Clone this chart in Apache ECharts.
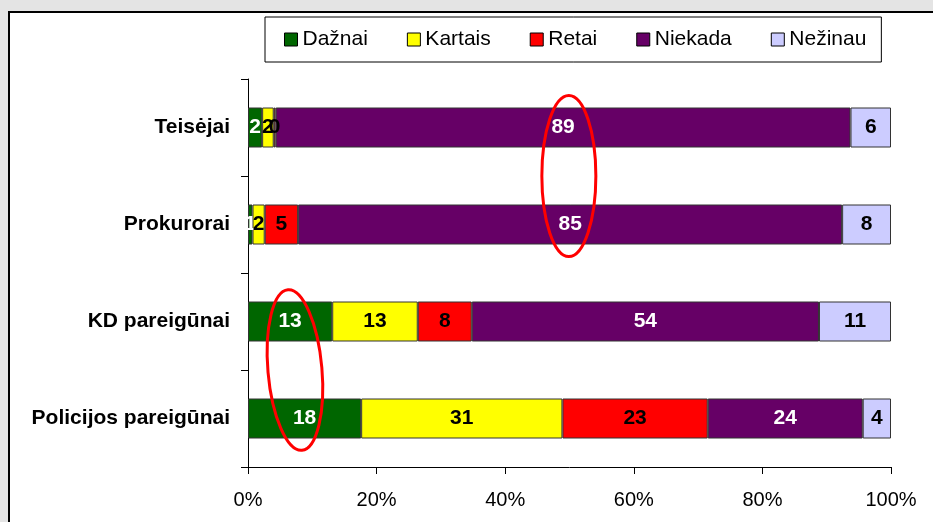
<!DOCTYPE html>
<html lang="lt" style="height: 100%">
<head>
  <meta charset="utf-8">
  <title>Dažnumas pagal grupes</title>
  <style>
    html, body { height: 100%; margin: 0; }
    #container { width: 933px; height: 522px; }
  </style>
</head>
<body>
  <div id="container"></div>
  <script src="https://cdn.jsdelivr.net/npm/echarts@6/dist/echarts.min.js"></script>
  <script type="text/javascript">
    // grupės iš viršaus į apačią
    var categories = ['Teisėjai', 'Prokurorai', 'KD pareigūnai', 'Policijos pareigūnai'];
    var seriesNames = ['Dažnai', 'Kartais', 'Retai', 'Niekada', 'Nežinau'];

    // procentai (nuskaityti nuo paveikslo), etiketėse rodomi suapvalinti
    var dazhnai = [2.2, 0.7, 13.1, 17.6];
    var kartais = [1.8, 1.9, 13.3, 31.3];
    var retai   = [0.3, 5.2, 8.4, 22.6];
    var niekada = [89.4, 84.6, 54.0, 24.1];
    var nezinau = [6.3, 7.6, 11.2, 4.4];

    var xTicks = [0, 20, 40, 60, 80, 100];

    var colors = ['#006600', '#ffff00', '#ff0000', '#660066', '#ccccff'];
    var labelColors = ['#fff', '#000', '#000', '#fff', '#000'];
    var allData = [dazhnai, kartais, retai, niekada, nezinau];

    var font = 'Liberation Sans, Arial, sans-serif';

    var dom = document.getElementById('container');
    var myChart = echarts.init(dom, null, { renderer: 'canvas' });

    var series = seriesNames.map(function (name, i) {
      return {
        name: name,
        type: 'bar',
        stack: 'total',
        barWidth: 40,
        data: allData[i],
        itemStyle: { color: colors[i], borderColor: '#333', borderWidth: 1 },
        label: {
          show: true,
          position: 'inside',
          color: labelColors[i],
          fontFamily: font,
          fontWeight: 'bold',
          fontSize: 21,
          formatter: function (p) { return Math.round(p.value); }
        }
      };
    });

    var option = {
      backgroundColor: '#e4e4e4',
      animation: false,
      color: colors,
      graphic: [
        {
          id: 'frame',
          type: 'rect',
          z: -1,
          shape: { x: 9, y: 12, width: 1000, height: 600 },
          style: { fill: '#fff', stroke: '#000', lineWidth: 2 }
        }
      ],
      legend: {
        left: 265,
        top: 17,
        itemGap: 39,
        itemWidth: 13,
        itemHeight: 13,
        padding: [12, 15, 12, 19],
        borderColor: '#000',
        borderWidth: 1,
        backgroundColor: '#fff',
        icon: 'rect',
        itemStyle: { borderColor: '#000', borderWidth: 1 },
        textStyle: { color: '#000', fontFamily: font, fontSize: 21 },
        data: seriesNames
      },
      grid: {
        left: 248,
        right: 42,
        top: 79,
        bottom: 55,
        containLabel: false,
        outerBoundsMode: 'none'
      },
      xAxis: {
        type: 'value',
        min: xTicks[0],
        max: xTicks[xTicks.length - 1],
        interval: 20,
        axisLine: { show: true, lineStyle: { color: '#000', width: 1 } },
        axisTick: { show: true, length: 7, lineStyle: { color: '#000' } },
        splitLine: { show: false },
        axisLabel: {
          color: '#000',
          fontFamily: font,
          fontSize: 20,
          margin: 23,
          formatter: '{value}%'
        }
      },
      yAxis: {
        type: 'category',
        inverse: true,
        data: categories,
        axisLine: { show: true, lineStyle: { color: '#000', width: 1 } },
        axisTick: { show: true, length: 7, lineStyle: { color: '#000' } },
        axisLabel: {
          color: '#000',
          fontFamily: font,
          fontWeight: 'bold',
          fontSize: 21,
          margin: 18
        }
      },
      series: series
    };

    myChart.setOption(option);

    // raudoni ovalai aplink 89/85 ir 13/18
    function ovalAround(id, xVal, catA, catB, rot) {
      var a = myChart.convertToPixel({ gridIndex: 0 }, [xVal, catA]);
      var b = myChart.convertToPixel({ gridIndex: 0 }, [xVal, catB]);
      var w = myChart.convertToPixel({ gridIndex: 0 }, [xVal + 4.2, catA]);
      var cx = a[0], cy = (a[1] + b[1]) / 2;
      return {
        id: id,
        type: 'ellipse',
        z: 100,
        x: cx,
        y: cy,
        rotation: rot,
        shape: { cx: 0, cy: 0, rx: w[0] - a[0], ry: Math.abs(b[1] - a[1]) * 0.83 },
        style: { fill: 'none', stroke: '#ff0000', lineWidth: 3 }
      };
    }

    myChart.setOption({
      graphic: [
        ovalAround('oval1', 49.9, 0, 1, 0),
        ovalAround('oval2', 7.3, 2, 3, 0.087)
      ]
    });

    window.addEventListener('resize', myChart.resize);
  </script>
</body>
</html>
